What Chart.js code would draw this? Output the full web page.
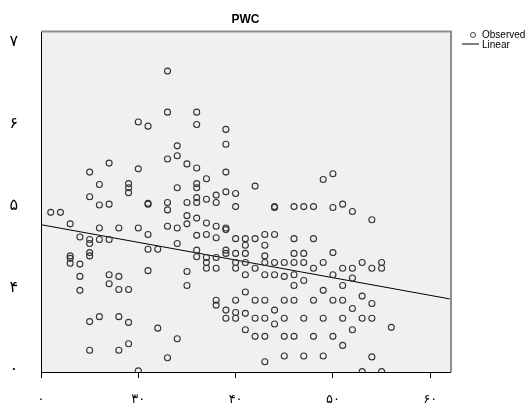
<!DOCTYPE html>
<html>
<head>
<meta charset="utf-8">
<script src="https://cdn.jsdelivr.net/npm/chart.js@4/dist/chart.umd.min.js"></script>
<style>
html, body { margin: 0; padding: 0; background: #fff; }
</style>
</head>
<body>
<canvas id="pwcChart" width="528" height="406"></canvas>
<script>
// observed points: age (x) and PWC (y)
const ages = [
  33, 33, 36, 36, 30, 31, 39, 34, 39, 27, 25, 30, 33, 26, 29, 29, 29, 25, 26, 27,
  31, 31, 33, 33, 21, 22, 23, 26, 28, 30, 33, 31, 24, 25, 25, 26, 27, 25, 25, 23,
  31, 32, 34, 35, 36, 39, 37, 34, 36, 36, 42, 38, 39, 40, 35, 36, 36, 37, 38, 40,
  44, 44, 46, 47, 48, 35, 34, 35, 36, 37, 38, 39, 39, 36, 37, 38, 40, 41, 42, 43,
  44, 46, 48, 34, 41, 43, 36, 39, 39, 40, 41, 46, 47, 36, 37, 38, 43, 50, 49, 50,
  51, 52, 54, 50,
  23, 23, 24, 24, 24, 25, 25, 26, 27, 27, 28, 28, 28, 28, 29, 29, 29, 30, 31, 32,
  33, 34, 35, 35, 37, 37, 38, 38, 38, 39, 39, 40, 40, 40, 40, 40, 41, 41, 41, 41,
  41, 42, 42, 42, 42, 43, 43, 43, 43, 43, 43, 44, 44, 44, 44, 45, 45, 45, 45, 45,
  45, 46, 46, 46, 46, 46, 47, 47, 47, 47, 48, 48, 48, 49, 49, 49, 49, 50, 50, 50,
  51, 51, 51, 51, 51, 52, 52, 52, 52, 53, 53, 53, 53, 54, 54, 54, 54, 55, 55, 55,
  56
];
const pwc = [
  6.64, 6.14, 6.14, 5.99, 6.02, 5.97, 5.93, 5.73, 5.75, 5.52, 5.41, 5.45, 5.57, 5.26, 5.27, 5.22, 5.16, 5.11, 5.01, 5.02,
  5.02, 5.03, 5.04, 4.95, 4.92, 4.92, 4.78, 4.73, 4.73, 4.73, 4.75, 4.65, 4.62, 4.59, 4.54, 4.59, 4.59, 4.43, 4.39, 4.39,
  4.47, 4.47, 5.61, 5.51, 5.46, 5.41, 5.33, 5.22, 5.27, 5.22, 5.24, 5.13, 5.17, 5.15, 5.04, 5.10, 5.04, 5.08, 5.04, 4.99,
  4.99, 4.98, 4.99, 4.99, 4.99, 4.88, 4.73, 4.78, 4.85, 4.79, 4.75, 4.73, 4.71, 4.64, 4.65, 4.61, 4.60, 4.60, 4.60, 4.65,
  4.65, 4.60, 4.60, 4.54, 4.52, 4.52, 4.46, 4.46, 4.42, 4.42, 4.42, 4.42, 4.42, 4.38, 4.37, 4.37, 4.39, 5.39, 5.32, 4.98,
  5.02, 4.93, 4.83, 4.43,
  4.36, 4.30, 4.29, 4.14, 3.97, 3.59, 3.24, 3.65, 4.16, 4.05, 4.14, 3.98, 3.65, 3.24, 3.98, 3.58, 3.32, 2.99, 4.21, 3.51,
  3.15, 3.38, 4.20, 4.03, 4.31, 4.24, 4.24, 3.85, 3.79, 3.73, 3.63, 4.31, 4.24, 3.85, 3.70, 3.63, 4.31, 4.16, 3.95, 3.69,
  3.49, 4.24, 3.85, 3.63, 3.41, 4.31, 4.16, 3.85, 3.63, 3.41, 3.10, 4.31, 4.16, 3.73, 3.56, 4.31, 4.14, 3.85, 3.63, 3.41,
  3.17, 4.31, 4.16, 4.03, 3.85, 3.41, 4.31, 4.09, 3.63, 3.17, 4.24, 3.85, 3.41, 4.31, 3.97, 3.63, 3.17, 4.16, 3.85, 3.41,
  4.24, 4.03, 3.85, 3.63, 3.30, 4.24, 4.12, 3.75, 3.49, 4.31, 3.90, 3.63, 2.98, 4.24, 3.81, 3.63, 3.16, 4.31, 4.24, 2.98,
  3.52
];

// fitted line end points
const fitAges = [20, 62];
const fitPwc = [4.77, 3.866];

const xTicks = [20, 30, 40, 50, 60];
const xTickLabels = ["۰", "۳۰", "۴۰", "۵۰", "۶۰"];
const yTicks = [3, 4, 5, 6, 7];
const yTickLabels = ["۰", "۴", "۵", "۶", "۷"];

const observed = ages.map((a, i) => ({ x: a, y: pwc[i] }));
const linear = fitAges.map((a, i) => ({ x: a, y: fitPwc[i] }));

const framePlugin = {
  id: "frame",
  beforeDraw(chart) {
    const { ctx, chartArea: a } = chart;
    ctx.save();
    ctx.fillStyle = "#f0f0f0";
    ctx.fillRect(a.left, a.top, a.right - a.left, a.bottom - a.top);
    ctx.restore();
  },
  afterDraw(chart) {
    const { ctx, chartArea: a } = chart;
    ctx.save();
    // grey top / right frame
    ctx.strokeStyle = "#8c8c8c";
    ctx.lineWidth = 2;
    ctx.beginPath();
    ctx.moveTo(a.left, a.top - 1);
    ctx.lineTo(a.right + 1, a.top - 1);
    ctx.lineTo(a.right + 1, a.bottom);
    ctx.stroke();

    // title
    ctx.fillStyle = "#000";
    ctx.font = 'bold 12px "Liberation Sans", Arial, sans-serif';
    ctx.textAlign = "center";
    ctx.textBaseline = "middle";
    ctx.fillText("PWC", (a.left + a.right) / 2, 20);

    // legend
    ctx.font = '10px "Liberation Sans", Arial, sans-serif';
    ctx.textAlign = "left";
    ctx.strokeStyle = "#444";
    ctx.lineWidth = 1;
    ctx.beginPath();
    ctx.arc(473, 35, 2.5, 0, Math.PI * 2);
    ctx.stroke();
    ctx.fillText("Observed", 482, 35);
    ctx.strokeStyle = "#000";
    ctx.beginPath();
    ctx.moveTo(462, 44);
    ctx.lineTo(479, 44);
    ctx.stroke();
    ctx.fillText("Linear", 482, 45);
    ctx.restore();
  }
};

new Chart(document.getElementById("pwcChart"), {
  type: "scatter",
  data: {
    datasets: [
      {
        label: "Observed",
        data: observed,
        pointRadius: 3,
        pointBorderWidth: 1.1,
        pointBorderColor: "#333",
        pointBackgroundColor: "rgba(0,0,0,0)",
        pointHoverRadius: 3
      },
      {
        label: "Linear",
        data: linear,
        showLine: true,
        borderColor: "#000",
        borderWidth: 1,
        pointRadius: 0
      }
    ]
  },
  options: {
    responsive: false,
    animation: false,
    layout: { padding: { top: 31, right: 78, left: 0, bottom: 0 } },
    plugins: {
      legend: { display: false },
      tooltip: { enabled: false }
    },
    scales: {
      x: {
        type: "linear",
        min: 20,
        max: 62.03,
        afterFit: s => { s.height = 34; },
        afterBuildTicks: s => { s.ticks = xTicks.map(v => ({ value: v })); },
        grid: { drawOnChartArea: false, drawTicks: true, tickLength: 6, color: "#000" },
        border: { color: "#000", width: 1 },
        ticks: {
          autoSkip: false,
          maxRotation: 0,
          padding: 14,
          color: "#000",
          font: { family: "DejaVu Sans", size: 13 },
          callback: v => xTickLabels[xTicks.indexOf(v)]
        }
      },
      y: {
        type: "linear",
        min: 2.976,
        max: 7.109,
        afterFit: s => { s.width = 41; },
        afterBuildTicks: s => { s.ticks = yTicks.map(v => ({ value: v })); },
        grid: { drawOnChartArea: false, drawTicks: false },
        border: { color: "#000", width: 1 },
        ticks: {
          autoSkip: false,
          padding: 23,
          color: "#000",
          font: { family: "DejaVu Sans", size: 16 },
          callback: v => yTickLabels[yTicks.indexOf(v)]
        }
      }
    }
  },
  plugins: [framePlugin]
});
</script>
</body>
</html>
